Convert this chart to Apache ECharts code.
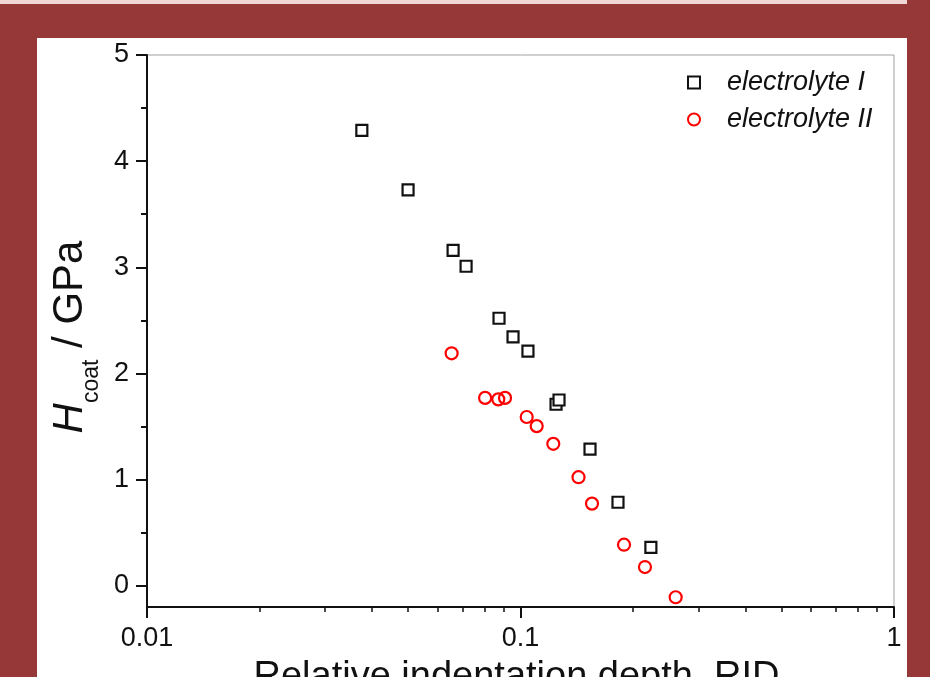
<html>
<head>
<meta charset="utf-8">
<title>H coat vs RID</title>
<script src="https://cdn.jsdelivr.net/npm/echarts@6.0.0/dist/echarts.min.js"></script>
<style>
	html,body{margin:0;padding:0;width:930px;height:677px;overflow:hidden;background:#973838;}
	#strip{position:absolute;left:0;top:0;width:907px;height:4px;background:#f1d6d6;}
	#panel{position:absolute;left:37px;top:38px;width:870px;height:639px;background:#fff;}
	#main{position:absolute;left:0;top:0;width:930px;height:677px;}
</style>
</head>
<body>
<div id="strip"></div>
<div id="panel"></div>
<div id="main"></div>

<script>
	// electrolyte I (squares)
	var rid1 = [0.0376, 0.0500, 0.0660, 0.0715, 0.0876, 0.0955, 0.1047, 0.1245, 0.1268, 0.1535, 0.1824, 0.2234];
	var hc1  = [4.29, 3.73, 3.16, 3.01, 2.52, 2.345, 2.21, 1.71, 1.75, 1.287, 0.787, 0.362];
	// electrolyte II (circles)
	var rid2 = [0.0654, 0.0804, 0.0872, 0.0909, 0.1039, 0.1105, 0.1224, 0.1430, 0.1554, 0.1893, 0.2154, 0.2603];
	var hc2  = [2.19, 1.77, 1.756, 1.77, 1.59, 1.504, 1.337, 1.023, 0.774, 0.387, 0.176, -0.108];

	var seriesNames = ['electrolyte I', 'electrolyte II'];
	var xMajor = [0.01, 0.1, 1];
	var xMinor = [0.02, 0.03, 0.04, 0.05, 0.06, 0.07, 0.08, 0.09, 0.2, 0.3, 0.4, 0.5, 0.6, 0.7, 0.8, 0.9];
	var yMajor = [0, 1, 2, 3, 4, 5];
	var yMinor = [0.5, 1.5, 2.5, 3.5, 4.5];

	function pairs(xs, ys){
		var out = [];
		for(var i=0;i<xs.length;i++){
			out.push([xs[i], ys[i]]);
		}
		return out;
	}

	var font = 'Liberation Sans, Arial, sans-serif';
	var myChart = echarts.init(document.getElementById('main'), null, {renderer: 'canvas'});

	var option = {
		backgroundColor: 'transparent',
		animation: false,
		grid: {
			left: 147, right: 36, top: 55, bottom: 70,
			outerBoundsMode: 'none', containLabel: false,
			show: true, borderColor: '#a0a0a0', borderWidth: 1, backgroundColor: '#fff'
		},
		legend: {
			orient: 'vertical',
			left: 682, top: 64,
			itemWidth: 12, itemHeight: 12, itemGap: 10,
			data: seriesNames,
			textStyle: {fontFamily: font, fontSize: 27, fontStyle: 'italic', color: '#111', padding: [0, 0, 0, 22]}
		},
		xAxis: [{
			type: 'log', logBase: 10, min: 0.01, max: 1, position: 'bottom',
			name: 'Relative indentation depth, RID', nameLocation: 'middle', nameGap: 52,
			nameTextStyle: {fontFamily: font, fontSize: 38, color: '#111', padding: [0, 8, 0, 0]},
			axisLine: {onZero: false, lineStyle: {color: '#111', width: 2}},
			axisTick: {customValues: xMajor, length: 11, lineStyle: {color: '#111', width: 2}},
			axisLabel: {customValues: xMajor, margin: 18, fontFamily: font, fontSize: 27, color: '#111',
				formatter: function(v){ return String(+v.toPrecision(3)); }},
			splitLine: {show: false}
		}, {
			type: 'log', logBase: 10, min: 0.01, max: 1, position: 'bottom',
			axisLine: {show: false, onZero: false},
			axisTick: {customValues: xMinor, length: 5, lineStyle: {color: '#111', width: 1.5}},
			axisLabel: {show: false},
			splitLine: {show: false}
		}],
		yAxis: [{
			type: 'value', min: -0.2, max: 5, position: 'left',
			name: '{h|H}{s|coat}{n| / GPa}', nameLocation: 'middle', nameGap: 55, nameRotate: 90,
			nameTextStyle: {
				color: '#111',
				rich: {
					h: {fontFamily: font, fontSize: 42, fontStyle: 'italic', lineHeight: 42, verticalAlign: 'top', color: '#111'},
					s: {fontFamily: font, fontSize: 23, lineHeight: 23, verticalAlign: 'top', padding: [31, 0, 0, 0], color: '#111'},
					n: {fontFamily: font, fontSize: 42, lineHeight: 42, verticalAlign: 'top', color: '#111', padding: [0, 12, 0, 0]}
				}
			},
			axisLine: {onZero: false, lineStyle: {color: '#111', width: 2}},
			axisTick: {customValues: yMajor, length: 11, lineStyle: {color: '#111', width: 2}},
			axisLabel: {customValues: yMajor, margin: 18, fontFamily: font, fontSize: 27, color: '#111'},
			splitLine: {show: false}
		}, {
			type: 'value', min: -0.2, max: 5, position: 'left',
			axisLine: {show: false, onZero: false},
			axisTick: {customValues: yMinor, length: 6, lineStyle: {color: '#111', width: 2}},
			axisLabel: {show: false},
			splitLine: {show: false}
		}],
		series: [{
			name: seriesNames[0],
			type: 'scatter',
			symbol: 'rect',
			symbolSize: 11,
			itemStyle: {color: '#fff', borderColor: '#111', borderWidth: 2.2, opacity: 1},
			data: pairs(rid1, hc1)
		}, {
			name: seriesNames[1],
			type: 'scatter',
			symbol: 'circle',
			symbolSize: 12,
			itemStyle: {color: 'rgba(255,255,255,0)', borderColor: '#ff0000', borderWidth: 2.2, opacity: 1},
			data: pairs(rid2, hc2)
		}]
	};

	myChart.setOption(option);
</script>
</body>
</html>
